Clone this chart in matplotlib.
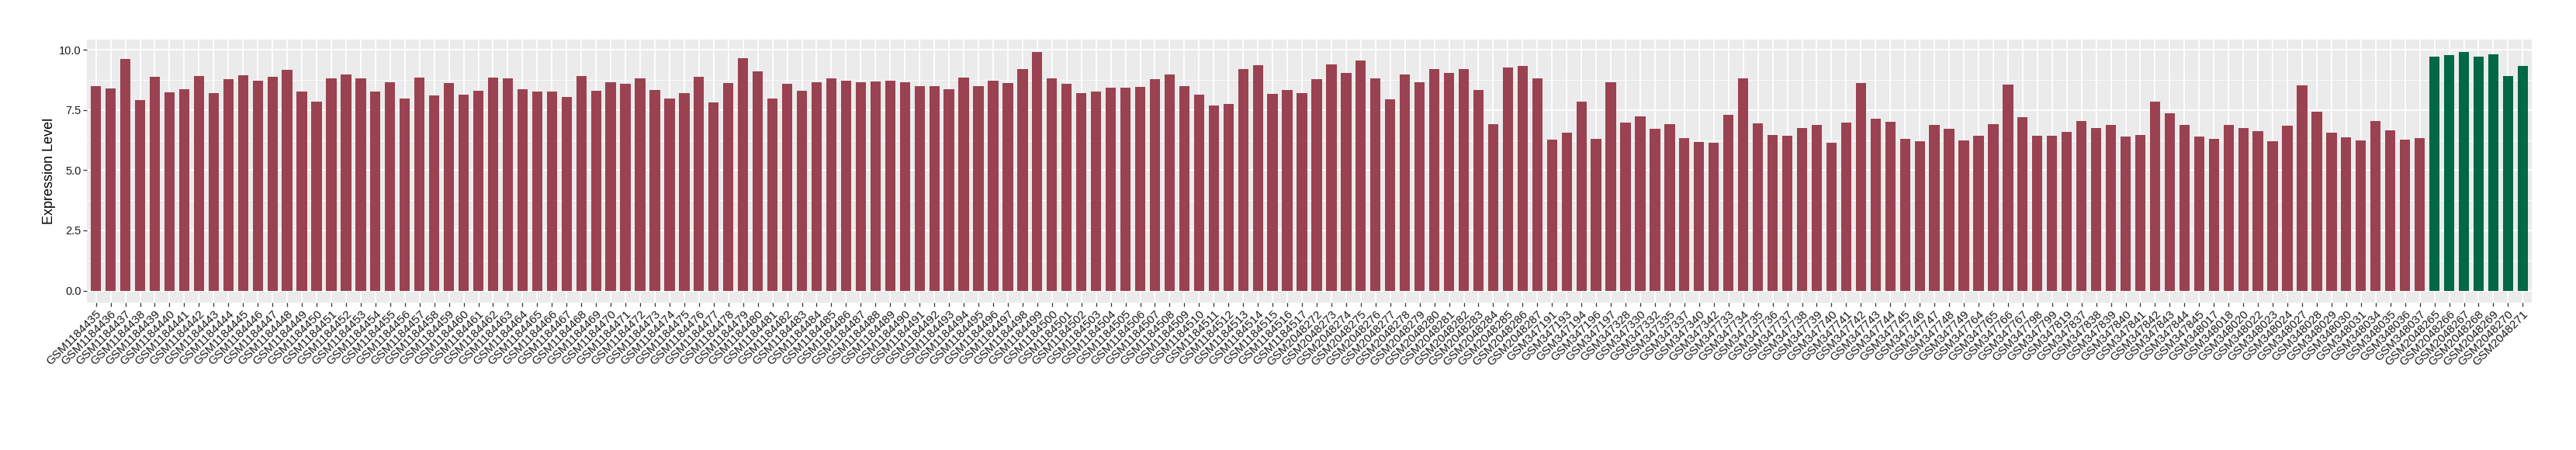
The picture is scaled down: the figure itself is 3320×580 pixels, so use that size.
import matplotlib
matplotlib.use("Agg")
import matplotlib.pyplot as plt
from matplotlib.ticker import MultipleLocator

# ---- data ----
ids_a = ["GSM%d" % n for n in range(1184435, 1184518)]
ids_b = ["GSM%d" % n for n in range(2048272, 2048288)]
ids_c = ["GSM347191", "GSM347193", "GSM347194", "GSM347196", "GSM347197",
         "GSM347328", "GSM347330", "GSM347332", "GSM347335", "GSM347337",
         "GSM347340", "GSM347342"]
ids_d = ["GSM%d" % n for n in range(347733, 347750)] + \
        ["GSM347764", "GSM347765", "GSM347766", "GSM347767", "GSM347798",
         "GSM347799", "GSM347819"] + ["GSM%d" % n for n in range(347837, 347846)]
ids_e = ["GSM348017", "GSM348018", "GSM348020", "GSM348022", "GSM348023",
         "GSM348024", "GSM348027", "GSM348028", "GSM348029", "GSM348030",
         "GSM348031", "GSM348034", "GSM348035", "GSM348036", "GSM348037"]
ids_green = ["GSM%d" % n for n in range(2048265, 2048272)]

samples = ids_a + ids_b + ids_c + ids_d + ids_e + ids_green

values_red = [
    8.48, 8.39, 9.60, 7.90, 8.88, 8.24, 8.36, 8.91, 8.19, 8.77,
    8.94, 8.70, 8.88, 9.17, 8.27, 7.86, 8.82, 8.97, 8.80, 8.27,
    8.65, 7.98, 8.85, 8.10, 8.62, 8.12, 8.30, 8.85, 8.82, 8.36,
    8.27, 8.27, 8.04, 8.91, 8.30, 8.65, 8.59, 8.80, 8.33, 7.98,
    8.21, 8.88, 7.81, 8.62, 9.64, 9.11, 7.98, 8.59, 8.30, 8.65,
    8.82, 8.70, 8.65, 8.68, 8.70, 8.65, 8.48, 8.50, 8.36, 8.85,
    8.48, 8.70, 8.62, 9.20, 9.92, 8.82, 8.59, 8.21, 8.27, 8.41,
    8.41, 8.44, 8.77, 8.97, 8.50, 8.12, 7.69, 7.75, 9.20, 9.35,
    8.15, 8.33, 8.21, 8.77, 9.38, 9.02, 9.55, 8.82, 7.95, 8.97,
    8.65, 9.20, 9.02, 9.20, 8.33, 6.91, 9.26, 9.31, 8.82, 6.27,
    6.56, 7.83, 6.30, 8.65, 6.96, 7.23, 6.71, 6.91, 6.33, 6.18,
    6.13, 7.29, 8.80, 6.93, 6.45, 6.42, 6.76, 6.88, 6.15, 6.96,
    8.62, 7.14, 7.00, 6.30, 6.21, 6.88, 6.71, 6.24, 6.42, 6.91,
    8.56, 7.20, 6.42, 6.42, 6.59, 7.05, 6.76, 6.88, 6.38, 6.45,
    7.86, 7.37, 6.88, 6.38, 6.30, 6.88, 6.76, 6.62, 6.21, 6.85,
    8.53, 7.42, 6.56, 6.35, 6.24, 7.03, 6.64, 6.27, 6.33,
]
values_green = [9.72, 9.77, 9.92, 9.72, 9.81, 8.91, 9.31]

values = values_red + values_green
groups = ["red"] * len(values_red) + ["green"] * len(values_green)
group_colors = {"red": "#9A4251", "green": "#006844"}

# ---- figure ----
plt.rcParams["font.family"] = ["Liberation Sans", "DejaVu Sans"]
fig = plt.figure(figsize=(33.2, 5.8), dpi=100)
ax = fig.add_axes([112.3 / 3320, 1 - 390 / 580, (3262.7 - 112.3) / 3320, (390 - 51) / 580])

x = list(range(len(samples)))
ax.set_facecolor("#EBEBEB")
ax.bar(x, values, width=0.7, color=[group_colors[g] for g in groups], zorder=3)

ax.set_xlim(-0.6, len(samples) - 1 + 0.6)
ax.set_ylim(-0.496, 10.42)
ax.yaxis.set_major_locator(MultipleLocator(2.5))
ax.yaxis.set_minor_locator(MultipleLocator(1.25))
ax.set_yticks([0, 2.5, 5, 7.5, 10])
ax.set_yticklabels(["0.0", "2.5", "5.0", "7.5", "10.0"])
ax.set_xticks(x)
ax.set_xticklabels(samples, rotation=45, ha="right", va="top",
                   rotation_mode="anchor", fontsize=11, color="#1a1a1a")
for lab in ax.get_yticklabels():
    lab.set_fontsize(10.5)
    lab.set_color("#1a1a1a")

ax.grid(which="major", color="white", linewidth=1.3, zorder=0)
ax.grid(which="minor", axis="y", color="white", linewidth=0.6, zorder=0)
ax.set_axisbelow(True)
ax.tick_params(axis="both", which="major", length=3.5, width=0.9, color="#333333", pad=2)
ax.tick_params(axis="y", which="minor", length=0)
for s in ax.spines.values():
    s.set_visible(False)

ax.set_ylabel("Expression Level", fontsize=13, color="black", labelpad=3)

fig.savefig("out.png", dpi=100, facecolor="white")
